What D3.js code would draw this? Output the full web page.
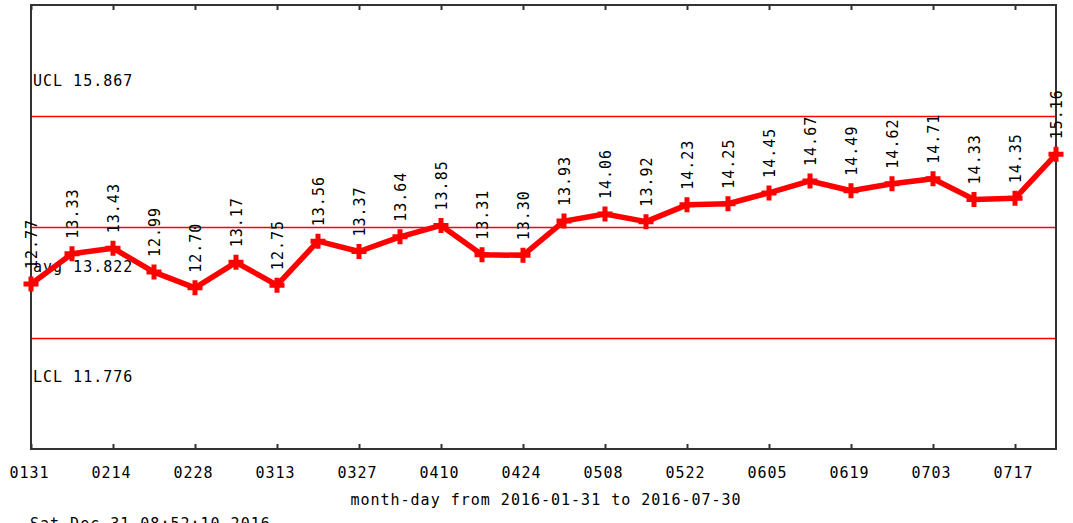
<!DOCTYPE html>
<html>
<head>
<meta charset="utf-8">
<script src="https://cdn.jsdelivr.net/npm/d3@7"></script>
<style>
  html, body { margin: 0; padding: 0; background: #fff; }
  svg { display: block; }
  text { font-family: "DejaVu Sans Mono", "Liberation Mono", monospace; font-size: 15px; letter-spacing: 1px; fill: #000; }
</style>
</head>
<body>
<svg id="chart" width="1073" height="523"></svg>
<script>
// Weekly sample dates (month-day) and the weekly averages
const weeks = ["0131","0207","0214","0221","0228","0306","0313","0320","0327","0403",
               "0410","0417","0424","0501","0508","0515","0522","0529","0605","0612",
               "0619","0626","0703","0710","0717","0724"];
const values = [12.77, 13.33, 13.43, 12.99, 12.70, 13.17, 12.75, 13.56, 13.37, 13.64,
                13.85, 13.31, 13.30, 13.93, 14.06, 13.92, 14.23, 14.25, 14.45, 14.67,
                14.49, 14.62, 14.71, 14.33, 14.35, 15.16];
// Control limits
const ucl = 15.867;
const avg = 13.822;
const lcl = 11.776;
// Labelled ticks every two weeks
const tickWeeks = ["0131","0214","0228","0313","0327","0410","0424","0508","0522","0605","0619","0703","0717"];
const xTitle = "month-day from 2016-01-31 to 2016-07-30";
const stamp = "Sat Dec 31 08:52:10 2016";

const svg = d3.select("#chart");
const plotL = 31, plotR = 1056, plotT = 5, plotB = 449;

const x = d3.scalePoint().domain(weeks).range([plotL, plotR]);
const span = ucl - lcl;
const y = d3.scaleLinear().domain([lcl - span / 2, ucl + span / 2]).range([plotB, plotT]);

// Control lines
const limits = [
  { v: ucl, text: "UCL " + ucl.toFixed(3), dy: -30 },
  { v: avg, text: "avg " + avg.toFixed(3), dy: 45 },
  { v: lcl, text: "LCL " + lcl.toFixed(3), dy: 44 }
];
svg.selectAll("line.limit").data(limits).join("line")
  .attr("class", "limit")
  .attr("x1", plotL).attr("x2", plotR)
  .attr("y1", d => Math.round(y(d.v)) + 0.5).attr("y2", d => Math.round(y(d.v)) + 0.5)
  .attr("stroke", "#ff0000").attr("stroke-width", 1.3);
svg.selectAll("text.limit").data(limits).join("text")
  .attr("class", "limit")
  .attr("x", plotL + 2)
  .attr("y", d => y(d.v) + d.dy)
  .text(d => d.text);

// Frame with inward ticks on top and bottom
svg.append("rect")
  .attr("x", plotL).attr("y", plotT)
  .attr("width", plotR - plotL).attr("height", plotB - plotT)
  .attr("fill", "none").attr("stroke", "#333").attr("stroke-width", 2);

const xAxisBottom = d3.axisBottom(x).tickValues(tickWeeks).tickSizeInner(-5).tickSizeOuter(0);
const gB = svg.append("g").attr("transform", `translate(0,${plotB})`).call(xAxisBottom);
gB.select(".domain").remove();
gB.selectAll(".tick line").attr("stroke", "#333").attr("stroke-width", 2);
gB.selectAll(".tick text")
  .attr("dx", -2)
  .attr("y", 29).attr("dy", 0)
  .style("font-family", "\"DejaVu Sans Mono\", monospace").style("font-size", "15px")
  .style("letter-spacing", "1px").attr("fill", "#000");

const xAxisTop = d3.axisTop(x).tickValues(tickWeeks).tickSizeInner(-5).tickSizeOuter(0).tickFormat("");
const gT = svg.append("g").attr("transform", `translate(0,${plotT})`).call(xAxisTop);
gT.select(".domain").remove();
gT.selectAll(".tick line").attr("stroke", "#333").attr("stroke-width", 2);

// Axis title and time stamp
svg.append("text").attr("x", 546).attr("y", 505).attr("text-anchor", "middle").text(xTitle);
svg.append("text").attr("x", 30).attr("y", 529).text(stamp);

// Data line
const data = weeks.map((w, i) => ({ w, v: values[i] }));
const line = d3.line().x(d => x(d.w)).y(d => y(d.v));
svg.append("path").datum(data)
  .attr("d", line)
  .attr("fill", "none").attr("stroke", "#ff0000").attr("stroke-width", 5.5)
  .attr("stroke-linejoin", "round");

// Plus markers
const arm = 7.5, half = 2.5;
const plus = `M${-arm},${-half}H${arm}V${half}H${-arm}Z M${-half},${-arm}H${half}V${arm}H${-half}Z`;
svg.selectAll("path.mark").data(data).join("path")
  .attr("class", "mark")
  .attr("transform", d => `translate(${x(d.w)},${y(d.v)})`)
  .attr("d", plus)
  .attr("fill", "#ff0000");

// Value labels, written upward above each point
svg.selectAll("text.val").data(data).join("text")
  .attr("class", "val")
  .attr("transform", d => `translate(${x(d.w) + 1},${y(d.v) - 15}) rotate(-90)`)
  .attr("dy", "0.36em")
  .text(d => d.v.toFixed(2));
</script>
</body>
</html>
